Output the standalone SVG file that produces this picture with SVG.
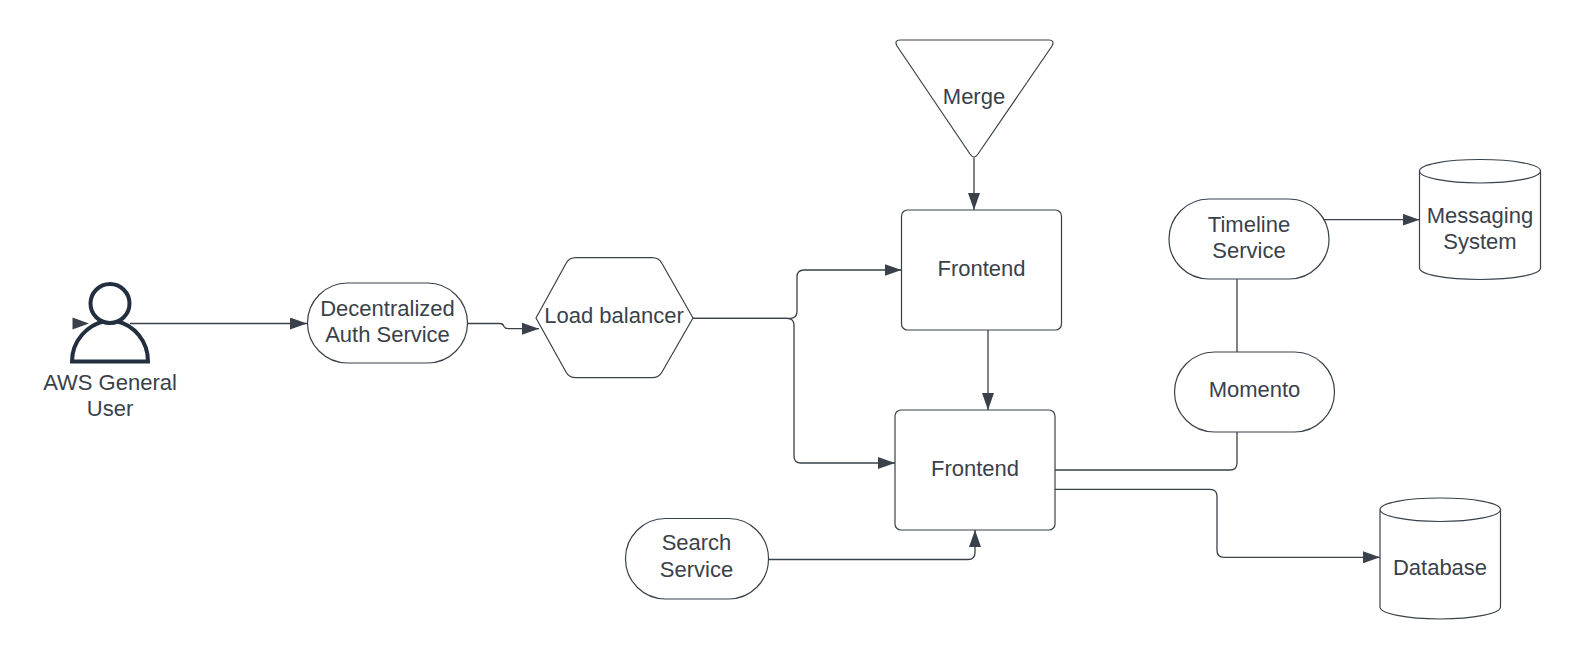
<svg xmlns="http://www.w3.org/2000/svg" width="1581" height="658" viewBox="0 0 1581 658">
<style>
.s{fill:#fff;stroke:#3a414a;stroke-width:1.2;stroke-linejoin:round}
.c{fill:none;stroke:#3a414a;stroke-width:1.3}
.t{font-family:"Liberation Sans",Arial,sans-serif;font-size:22px;fill:#3a414a;text-anchor:middle}
.u{fill:#fff;stroke:#232f3e;stroke-width:4}
</style>
<defs>
<marker id="a" markerUnits="userSpaceOnUse" markerWidth="17" markerHeight="12" refX="17" refY="6" orient="auto"><path d="M0 0L17 6L0 12Z" fill="#3a414a"/></marker>
</defs>
<rect width="1581" height="658" fill="#fff"/>
<g id="connectors">
<path class="c" marker-end="url(#a)" d="M130 323.500H307"/>
<path class="c" marker-end="url(#a)" d="M467 323.500H500Q503 323.500 504 326.500Q505 328.700 508 328.700H539"/>
<path class="c" marker-end="url(#a)" d="M693 318.300H790Q797 318.300 797 311.300V277Q797 270 804 270H901.500"/>
<path class="c" marker-end="url(#a)" d="M693 318.300H787Q794 318.300 794 325.300V456Q794 463 801 463H895"/>
<path class="c" marker-end="url(#a)" d="M974 157.500V210"/>
<path class="c" marker-end="url(#a)" d="M988 330V410"/>
<path class="c" marker-end="url(#a)" d="M768 559.500H968Q975 559.500 975 552.500V530"/>
<path class="c" d="M1055 470H1230Q1237 470 1237 463V432"/>
<path class="c" d="M1237 352V279"/>
<path class="c" marker-end="url(#a)" d="M1055 489.300H1210Q1217 489.300 1217 496.300V550.300Q1217 557.300 1224 557.300H1380"/>
<path class="c" marker-end="url(#a)" d="M1320 219.700H1419.500"/>
</g>
<g id="user">
<path class="u" d="M72 361.500C72 341 87 325 105 321C108 323 113 323 116 321C134 325 148 341 148 361.500Z"/>
<circle class="u" cx="110" cy="303.500" r="19.500"/>
<path d="M72.500 317.500L89 323.500L72.500 329.500Z" fill="#3a414a"/>
<text class="t" x="110" y="389.500">AWS General</text>
<text class="t" x="110" y="416">User</text>
</g>
<g id="auth">
<rect class="s" x="307.500" y="283" width="160" height="80" rx="40"/>
<text class="t" x="387.500" y="315.500">Decentralized</text>
<text class="t" x="387.500" y="342">Auth Service</text>
</g>
<g id="lb">
<path class="s" d="M536 318L566 263.500Q569 257.700 576 257.700H652Q659 257.700 662 263.500L693 318L662 372Q659 377.700 652 377.700H576Q569 377.700 566 372Z"/>
<text class="t" x="614" y="322.700">Load balancer</text>
</g>
<g id="merge">
<path class="s" d="M900 40H1049Q1055 40 1052 46L978 154Q974 160 970 154L897 46Q894 40 900 40Z"/>
<text class="t" x="974" y="104">Merge</text>
</g>
<g id="frontend1">
<rect class="s" x="901.500" y="210" width="160" height="120" rx="6"/>
<text class="t" x="981.500" y="276">Frontend</text>
</g>
<g id="frontend2">
<rect class="s" x="895" y="410" width="160" height="120" rx="6"/>
<text class="t" x="975" y="476">Frontend</text>
</g>
<g id="search">
<rect class="s" x="625.500" y="518.500" width="143" height="80.500" rx="40"/>
<text class="t" x="696.500" y="550">Search</text>
<text class="t" x="696.500" y="576.500">Service</text>
</g>
<g id="timeline">
<rect class="s" x="1169" y="199" width="160" height="80" rx="40"/>
<text class="t" x="1249" y="231.700">Timeline</text>
<text class="t" x="1249" y="258.300">Service</text>
</g>
<g id="momento">
<rect class="s" x="1174.500" y="352" width="160" height="80" rx="40"/>
<text class="t" x="1254.500" y="397">Momento</text>
</g>
<g id="messaging">
<path class="s" d="M1419.500 171V268C1419.500 274.500 1446 279.500 1480 279.500S1540.500 274.500 1540.500 268V171C1540.500 164.500 1514 159.500 1480 159.500S1419.500 164.500 1419.500 171C1419.500 177.500 1446 183 1480 183S1540.500 177.500 1540.500 171"/>
<text class="t" x="1480" y="222.700">Messaging</text>
<text class="t" x="1480" y="249.300">System</text>
</g>
<g id="database">
<path class="s" d="M1380 509.500V607C1380 613.500 1406 619 1440 619S1500.500 613.500 1500.500 607V509.500C1500.500 503 1474 498 1440 498S1380 503 1380 509.500C1380 516 1406 521.500 1440 521.500S1500.500 516 1500.500 509.500"/>
<text class="t" x="1440" y="575">Database</text>
</g>
</svg>
